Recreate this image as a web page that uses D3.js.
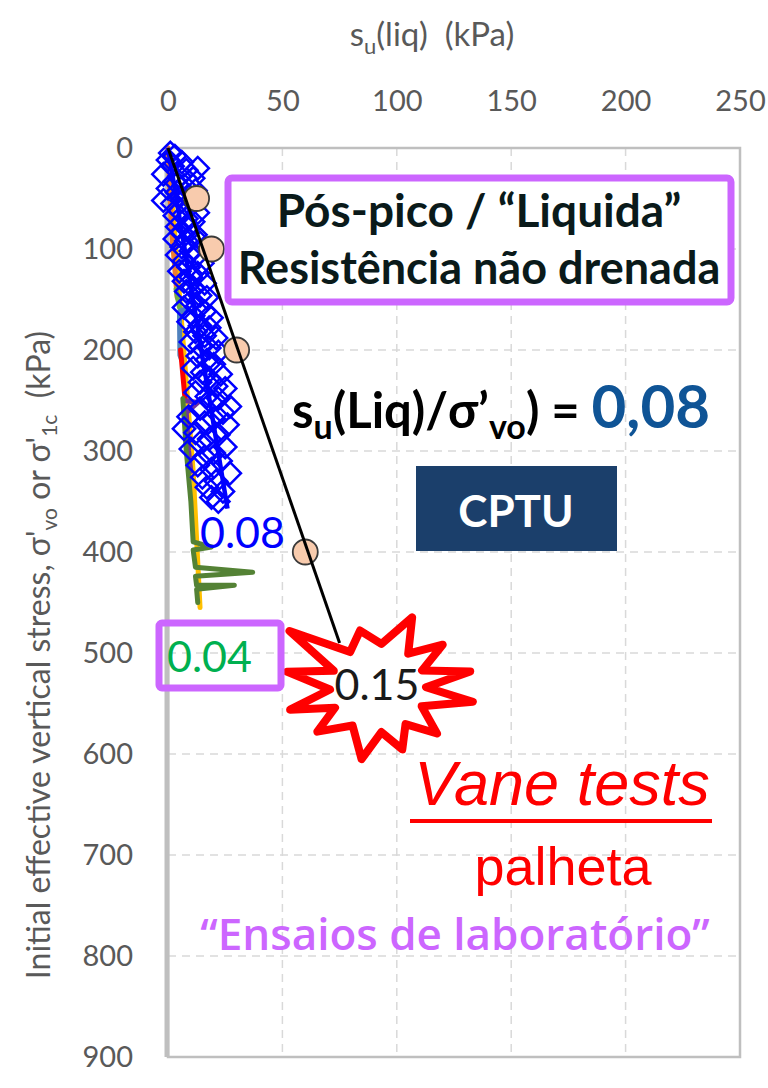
<!DOCTYPE html>
<html>
<head>
<meta charset="utf-8">
<script src="https://cdn.jsdelivr.net/npm/d3@7"></script>
<style>
	body { margin: 0; background: #ffffff; }
	svg { display: block; }
</style>
</head>
<body>
<svg width="768" height="1088"></svg>
<script>
const xTicks = [0, 50, 100, 150, 200, 250];
const yTicks = [0, 100, 200, 300, 400, 500, 600, 700, 800, 900];

// CPTU profile points (su, sigma'vo) in kPa
const cptuPoints = [
	[1, 5], [3, 8], [0, 12], [6, 14], [13, 20], [2, 18], [8, 22], [-2, 26], [5, 28], [11, 30], [3, 33],
	[7, 37], [0, 40], [12, 42], [4, 44], [9, 47], [-2, 52], [6, 52],
	[2, 55], [10, 57], [5, 62], [13, 64], [3, 67], [8, 70], [11, 73], [4, 78], [9, 80], [6, 84],
	[12, 86], [3, 90], [8, 92], [14, 94], [6, 98], [10, 102],
	[4, 106], [12, 108], [7, 112], [15, 114], [9, 118], [5, 122], [13, 124], [10, 128], [7, 132],
	[16, 134], [11, 138], [8, 142], [14, 146], [17, 148], [10, 152],
	[13, 156], [7, 158], [16, 162], [11, 166], [19, 168], [9, 172], [14, 176], [18, 178], [12, 182],
	[16, 186], [21, 188], [10, 192], [14, 196], [18, 198], [22, 202],
	[13, 206], [17, 210], [20, 214], [11, 218], [15, 222], [23, 224], [18, 228], [14, 232], [21, 236],
	[25, 238], [12, 242], [17, 246], [22, 248], [19, 252], [27, 256],
	[14, 258], [24, 262], [9, 266], [20, 268], [16, 272], [26, 274], [7, 278], [12, 282], [22, 284],
	[18, 288], [14, 292], [25, 296], [10, 298], [20, 302],
	[16, 306], [23, 310], [13, 314], [19, 318], [27, 322], [15, 326], [21, 330], [17, 336], [24, 340],
	[19, 346], [22, 350]
];
const cptuTrend = [[0, 0], [26, 357]];

// vane tests
const vanePoints = [[12.5, 50], [19, 100], [30, 200], [60, 400]];
const vaneTrend = [[0, 0], [75, 490]];

// laboratory test profiles
const labSeries = [
	{ name: 'gold', colour: '#ffc000', values: [[0, 0], [11, 320], [14, 455]] },
	{ name: 'orange', colour: '#ed7d31', values: [[0, 0], [1.5, 80], [3, 120], [4, 148]] },
	{ name: 'lightgreen', colour: '#70ad47', values: [[3.5, 140], [5, 158]] },
	{ name: 'steel', colour: '#4f81bd', values: [[7, 160], [5, 162], [5.2, 205], [6, 210]] },
	{ name: 'red', colour: '#ff0000', values: [[5.5, 200], [6.5, 225], [7.5, 250]] },
	{ name: 'purple', colour: '#7030a0', values: [[7, 250], [13, 252], [8, 262], [9, 300], [10, 320]] },
	{ name: 'green', colour: '#548235', values: [[6.5, 248], [8, 300], [10, 350], [11, 390], [19, 395], [11, 398],
		[12, 415], [37, 420], [12, 424], [12.5, 433], [29, 433], [12.5, 437], [13, 450]] }
];

const svg = d3.select('svg');

const x = d3.scaleLinear().domain([0, 250]).range([168, 740]);
const y = d3.scaleLinear().domain([0, 900]).range([148, 1057]);

const grey = '#595959';
const calibri = 'Lato, "Open Sans", sans-serif';

// grid
const grid = svg.append('g').attr('class', 'grid')
	.attr('stroke', '#d9d9d9')
	.attr('stroke-width', 1.5)
	.attr('stroke-dasharray', '8,6');

grid.selectAll('line.v')
	.data(xTicks.slice(1, -1))
	.enter()
	.append('line')
	.attr('x1', d => x(d)).attr('x2', d => x(d))
	.attr('y1', y(0)).attr('y2', y(900));

grid.selectAll('line.h')
	.data(yTicks.slice(1, -1))
	.enter()
	.append('line')
	.attr('x1', x(0)).attr('x2', x(250))
	.attr('y1', d => y(d)).attr('y2', d => y(d));

// frame
svg.append('rect')
	.attr('x', x(0)).attr('y', y(0))
	.attr('width', x(250) - x(0)).attr('height', y(900) - y(0))
	.attr('fill', 'none')
	.attr('stroke', '#bfbfbf')
	.attr('stroke-width', 2.5);

svg.append('line')
	.attr('x1', x(0) - 1).attr('x2', x(0) - 1)
	.attr('y1', y(0)).attr('y2', y(900))
	.attr('stroke', '#bfbfbf')
	.attr('stroke-width', 5);

// axes
const xAxis = svg.append('g')
	.attr('transform', `translate(0,${y(0)})`)
	.call(d3.axisTop(x).tickValues(xTicks).tickSize(0).tickPadding(37));
const yAxis = svg.append('g')
	.attr('transform', `translate(${x(0)},0)`)
	.call(d3.axisLeft(y).tickValues(yTicks).tickSize(0).tickPadding(35));

[xAxis, yAxis].forEach(ax => {
	ax.select('.domain').remove();
	ax.selectAll('text')
		.attr('fill', grey)
		.attr('font-size', 29)
		.attr('font-family', calibri);
});

// axis titles
const xTitle = svg.append('text')
	.attr('x', 432).attr('y', 46)
	.attr('text-anchor', 'middle')
	.attr('fill', grey)
	.attr('font-size', 33)
	.attr('font-family', calibri);
xTitle.append('tspan').text('s');
xTitle.append('tspan').text('u').attr('font-size', 22).attr('dy', 8);
xTitle.append('tspan').text('(liq)\u00a0\u00a0(kPa)').attr('dy', -8);

const yTitle = svg.append('text')
	.attr('transform', 'translate(50,655) rotate(-90)')
	.attr('text-anchor', 'middle')
	.attr('fill', grey)
	.attr('font-size', 32)
	.attr('font-family', calibri);
yTitle.append('tspan').text('Initial effective vertical stress, σ\'');
yTitle.append('tspan').text('vo').attr('font-size', 21).attr('dy', 7);
yTitle.append('tspan').text(' or σ\'').attr('dy', -7);
yTitle.append('tspan').text('1c').attr('font-size', 21).attr('dy', 7);
yTitle.append('tspan').text('\u00a0\u00a0(kPa)').attr('dy', -7);

const line = d3.line().x(d => x(d[0])).y(d => y(d[1]));

// lab profiles
svg.append('g')
	.selectAll('path')
	.data(labSeries)
	.enter()
	.append('path')
	.attr('d', d => line(d.values))
	.attr('fill', 'none')
	.attr('stroke', d => d.colour)
	.attr('stroke-width', 5)
	.attr('stroke-linejoin', 'round')
	.attr('stroke-linecap', 'round');

// CPTU diamonds
svg.append('g')
	.selectAll('path')
	.data(cptuPoints)
	.enter()
	.append('path')
	.attr('d', d3.symbol(d3.symbolSquare, 250))
	.attr('transform', d => `translate(${x(d[0])},${y(d[1])}) rotate(45)`)
	.attr('fill', 'none')
	.attr('stroke', '#0000ff')
	.attr('stroke-width', 2.5);

svg.append('path')
	.attr('d', line(cptuTrend))
	.attr('stroke', '#0000ff')
	.attr('stroke-width', 4.5);

// vane circles + trend
svg.append('g')
	.selectAll('circle')
	.data(vanePoints)
	.enter()
	.append('circle')
	.attr('cx', d => x(d[0]))
	.attr('cy', d => y(d[1]))
	.attr('r', 12.5)
	.attr('fill', '#f8cbad')
	.attr('stroke', '#3a3a3a')
	.attr('stroke-width', 1.8);

svg.append('path')
	.attr('d', line(vaneTrend))
	.attr('stroke', '#000000')
	.attr('stroke-width', 3);

// starburst around the 0.15 label
const burstTips = [[-145, 108], [-106, 65], [-66, 84], [-36, 80], [-11, 94], [9, 96],
	[40, 77], [70, 71], [102, 79], [142, 77], [165, 91], [191, 93]];
const burst = [];
burstTips.forEach((t, i) => {
	const next = burstTips[(i + 1) % burstTips.length];
	const nextAngle = i === burstTips.length - 1 ? next[0] + 360 : next[0];
	burst.push([t[0], t[1]]);
	burst.push([(t[0] + nextAngle) / 2, 48]);
});
const cx = 378, cy = 688;
svg.append('path')
	.attr('d', d3.line()
		.x(d => cx + Math.cos(d[0] * Math.PI / 180) * d[1])
		.y(d => cy + Math.sin(d[0] * Math.PI / 180) * d[1] * 0.92)
		.curve(d3.curveLinearClosed)(burst))
	.attr('fill', '#ffffff')
	.attr('stroke', '#ff0000')
	.attr('stroke-width', 8)
	.attr('stroke-linejoin', 'round');

svg.append('text')
	.attr('x', 377).attr('y', 700)
	.attr('text-anchor', 'middle')
	.attr('fill', '#1a1a1a')
	.attr('font-size', 43)
	.attr('font-family', calibri)
	.text('0.15');

// slope labels
svg.append('text')
	.attr('x', 200).attr('y', 548)
	.attr('fill', '#0000ff')
	.attr('font-size', 43)
	.attr('font-family', calibri)
	.text('0.08');

svg.append('rect')
	.attr('x', 159).attr('y', 623)
	.attr('width', 122).attr('height', 65)
	.attr('rx', 3)
	.attr('fill', 'none')
	.attr('stroke', '#cc66ff')
	.attr('stroke-width', 7);

svg.append('text')
	.attr('x', 167).attr('y', 672)
	.attr('fill', '#00b050')
	.attr('font-size', 43)
	.attr('font-family', calibri)
	.text('0.04');

// title box
svg.append('rect')
	.attr('x', 228).attr('y', 178)
	.attr('width', 503).attr('height', 124)
	.attr('rx', 4)
	.attr('fill', '#ffffff')
	.attr('stroke', '#cc66ff')
	.attr('stroke-width', 7);

svg.append('text')
	.attr('x', 479).attr('y', 227)
	.attr('text-anchor', 'middle')
	.attr('fill', '#0a1a1a')
	.attr('font-size', 46)
	.attr('font-weight', 700)
	.attr('font-family', calibri)
	.text('Pós-pico / “Liquida”');

svg.append('text')
	.attr('x', 479).attr('y', 284)
	.attr('text-anchor', 'middle')
	.attr('fill', '#0a1a1a')
	.attr('font-size', 45)
	.attr('font-weight', 700)
	.attr('font-family', calibri)
	.text('Resistência não drenada');

// ratio formula
const formula = svg.append('text')
	.attr('x', 292).attr('y', 428)
	.attr('fill', '#000000')
	.attr('font-size', 49)
	.attr('font-weight', 700)
	.attr('font-family', calibri);
formula.append('tspan').text('s');
formula.append('tspan').text('u').attr('font-size', 34).attr('dy', 11);
formula.append('tspan').text('(Liq)/σ’').attr('dy', -11);
formula.append('tspan').text('vo').attr('font-size', 34).attr('dy', 11);
formula.append('tspan').text(')\u00a0=\u00a0').attr('dy', -11);
formula.append('tspan').text('0,08').attr('fill', '#0f5496').attr('font-size', 60);

// CPTU label
svg.append('rect')
	.attr('x', 416).attr('y', 466)
	.attr('width', 201).attr('height', 85)
	.attr('fill', '#1b3f6b');

svg.append('text')
	.attr('x', 516).attr('y', 527)
	.attr('text-anchor', 'middle')
	.attr('fill', '#ffffff')
	.attr('font-size', 44)
	.attr('font-weight', 700)
	.attr('font-family', calibri)
	.text('CPTU');

// vane / lab labels
svg.append('text')
	.attr('x', 562).attr('y', 805)
	.attr('text-anchor', 'middle')
	.attr('fill', '#ff0000')
	.attr('font-size', 63)
	.attr('font-style', 'italic')
	.attr('font-family', '"Liberation Sans", Arial, sans-serif')
	.text('Vane tests');

svg.append('line')
	.attr('x1', 410).attr('x2', 712)
	.attr('y1', 821).attr('y2', 821)
	.attr('stroke', '#ff0000')
	.attr('stroke-width', 4);

svg.append('text')
	.attr('x', 563).attr('y', 885)
	.attr('text-anchor', 'middle')
	.attr('fill', '#ff0000')
	.attr('font-size', 54)
	.attr('font-family', '"Liberation Sans", Arial, sans-serif')
	.text('palheta');

svg.append('text')
	.attr('x', 455).attr('y', 950)
	.attr('text-anchor', 'middle')
	.attr('fill', '#cc66ff')
	.attr('font-size', 44)
	.attr('font-weight', 600)
	.attr('font-family', '"Open Sans", sans-serif')
	.text('“Ensaios de laboratório”');
</script>
</body>
</html>
